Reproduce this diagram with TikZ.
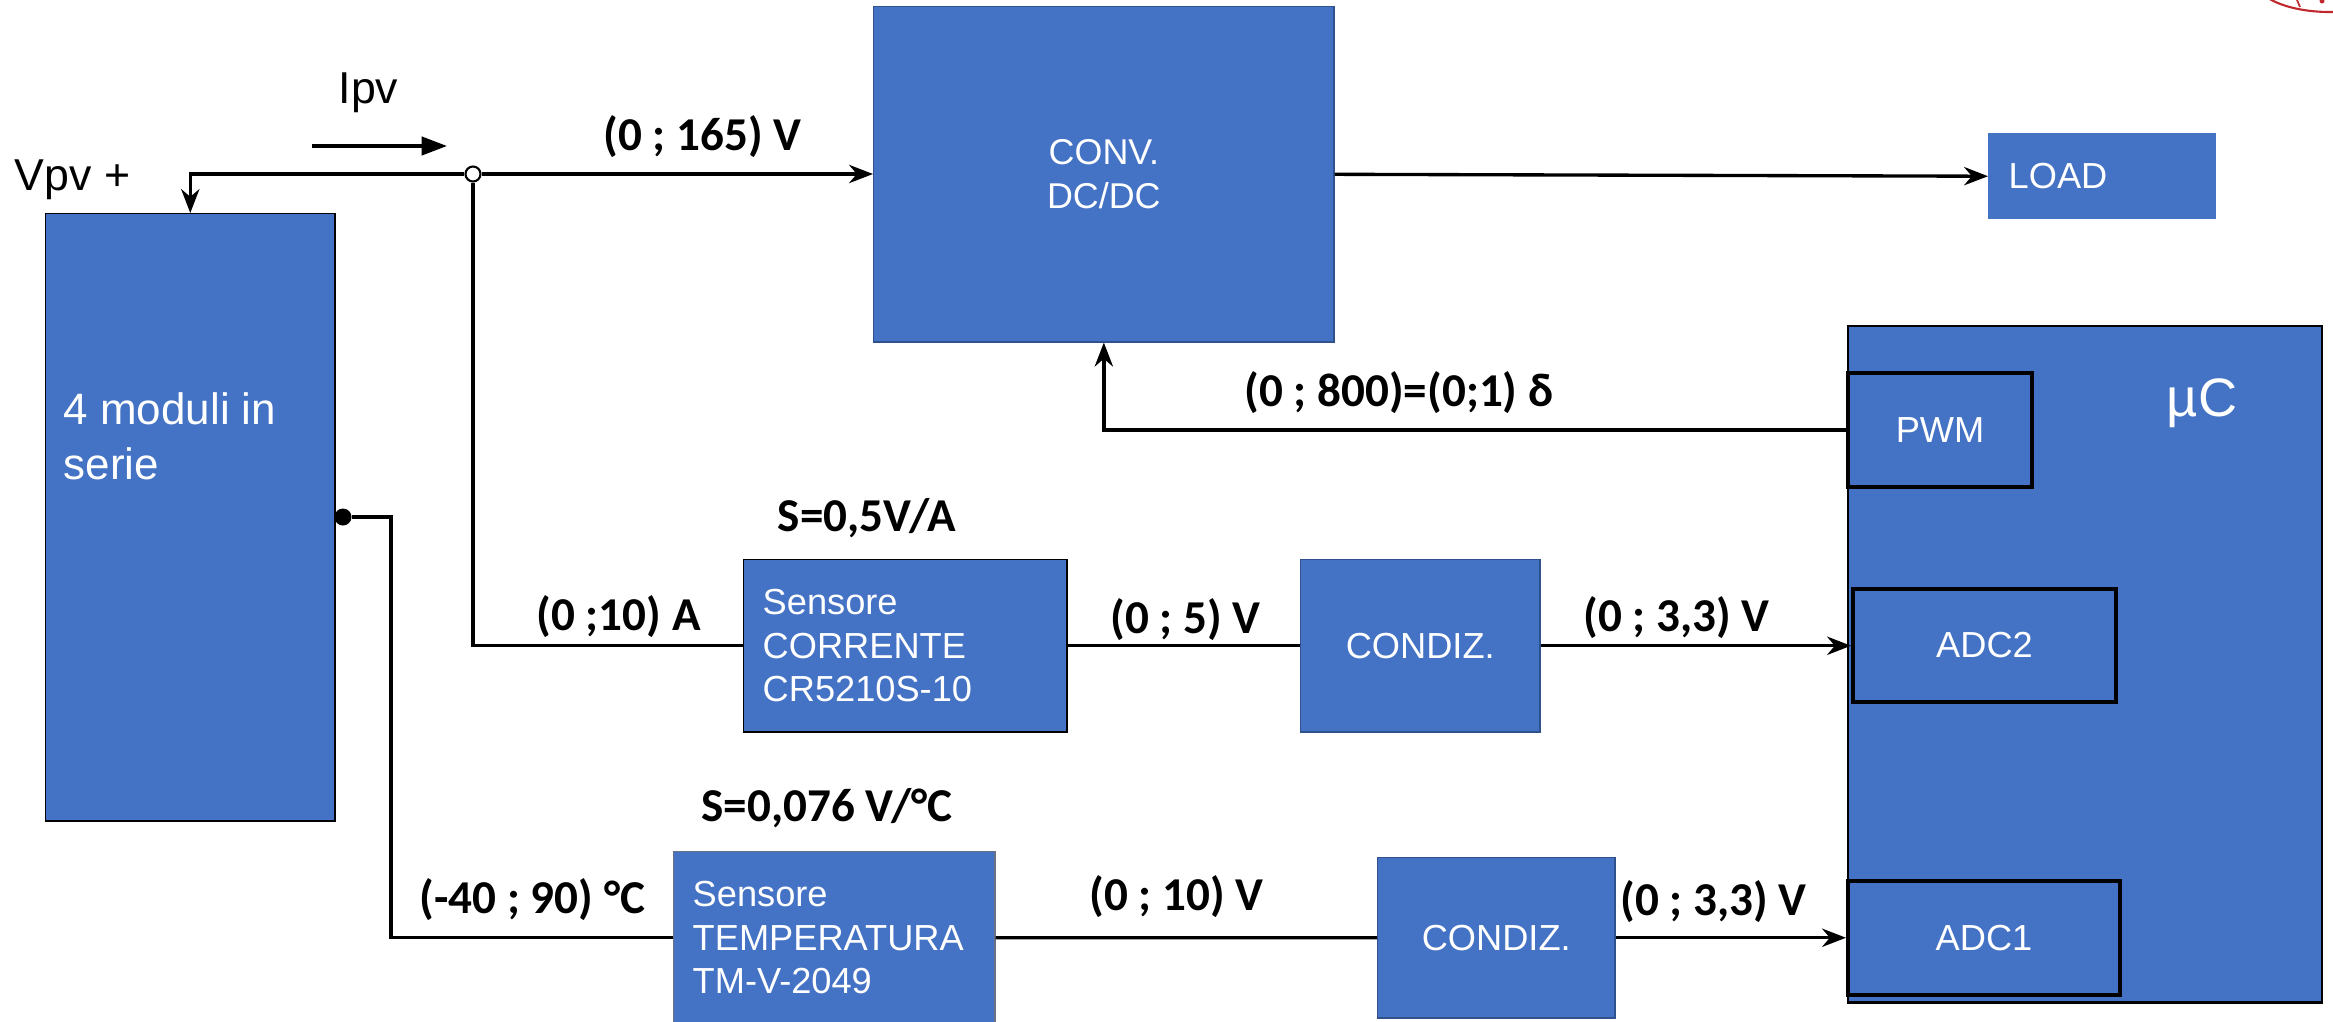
\documentclass[tikz,border=0pt]{standalone}
\usepackage{fontspec}
\setmainfont{Liberation Sans}
\newfontfamily\labfont{Carlito}
\usetikzlibrary{arrows.meta}
\definecolor{boxblue}{HTML}{4472C4}
\definecolor{edgeblue}{HTML}{2F528F}
\definecolor{logored}{HTML}{C0282D}
\begin{document}
\begin{tikzpicture}[x=0.01cm,y=-0.01cm,
  blk/.style={fill=boxblue, draw=#1, line width=0.4pt, inner sep=0pt, text=white,
    anchor=north west, font=\fontsize{10.3}{12.3}\selectfont},
  blk/.default=edgeblue,
  port/.style={fill=boxblue, draw=black, line width=1.1pt, inner sep=0pt, text=white,
    anchor=north west, font=\fontsize{10.3}{12.3}\selectfont},
  wtext/.style={text=white, inner sep=0pt},
  conn/.style={draw=black, line width=0.95pt},
  arr/.style={-{Stealth[length=6.8pt,width=5.2pt,inset=2.2pt]}},
  lab/.style={font=\labfont\bfseries\fontsize{13.4}{16}\selectfont, inner sep=0pt, anchor=west},
  big/.style={font=\fontsize{12.7}{15}\selectfont, inner sep=0pt}
]
\useasboundingbox (0,0) rectangle (2333,1021);

% logo fragment
\begin{scope}
  \clip (2233,0) rectangle (2333,40);
  \draw[logored, line width=0.6pt] (2330,-20) ellipse [x radius=0.75cm, y radius=0.32cm];
  \draw[logored, line width=0.5pt] (2297,0) -- (2300,7);
  \fill[logored] (2322,1) circle [radius=0.025cm];
\end{scope}

% blocks
\node[blk=black, minimum width=2.89cm, minimum height=6.07cm] (mod) at (45,213) {};
\node[wtext, anchor=west, align=left, font=\fontsize{12.5}{15.7}\selectfont] (modt) at (63,436) {4 moduli in\\serie};

\node[blk, minimum width=4.60cm, minimum height=3.35cm, align=center, font=\fontsize{10.2}{12.5}\selectfont] (conv) at (873,6) {CONV.\\DC/DC};

\node[blk=boxblue, minimum width=2.26cm, minimum height=0.85cm, text width=1.86cm, inner xsep=0.2cm, align=left] (load) at (1988,133) {LOAD};

\node[blk=black, minimum width=3.23cm, minimum height=1.72cm, text width=2.85cm, inner xsep=0.19cm, align=left] (cs) at (743,559) {Sensore\\CORRENTE\\CR5210S-10};
\node[blk, minimum width=2.39cm, minimum height=1.72cm] (cd1) at (1300,559) {CONDIZ.};

\node[blk=gray!70!edgeblue, minimum width=3.21cm, minimum height=1.72cm, text width=2.83cm, inner xsep=0.18cm, align=left] (ts) at (673,851) {Sensore\\TEMPERATURA\\TM-V-2049};
\node[blk, minimum width=2.37cm, minimum height=1.60cm] (cd2) at (1377,857) {CONDIZ.};

\node[blk=black, line width=0.6pt, minimum width=4.74cm, minimum height=6.76cm] (uc) at (1847,325) {};
\node[wtext, font=\fontsize{15.4}{18}\selectfont] (uct) at (2202,403) {µC};
\node[port, minimum width=1.84cm, minimum height=1.14cm] (pwm) at (1846,371) {PWM};
\node[port, minimum width=2.63cm, minimum height=1.13cm] (adc2) at (1851,587) {ADC2};
\node[port, minimum width=2.72cm, minimum height=1.14cm] (adc1) at (1846,879) {ADC1};

% junctions
\node[circle, draw=black, fill=white, line width=0.6pt, inner sep=0pt, minimum size=0.15cm] (jc) at (473,174) {};
\node[circle, fill=black, inner sep=0pt, minimum size=0.17cm] (dt) at (343,517) {};
\coordinate (tk) at (391,517);
\coordinate (ia) at (312,146);
\coordinate (ib) at (447,146);

% connectors
\draw[conn, arr] (jc) -| (mod.north);
\draw[conn, arr] (jc) -- (jc -| conv.west);
\draw[conn] (jc) |- (cs.west);
\draw[conn, arr] (conv.east) -- (load.west);
\draw[conn, arr] (pwm.west) -| (conv.south);
\draw[conn] (cs) -- (cd1);
\draw[conn, arr] (cd1.east) -- (cd1.east -| adc2.west);
\draw[conn] (dt) -- (tk) |- (ts.west);
\draw[conn] (ts) -- (cd2);
\draw[conn, arr] (cd2.east) -- (cd2.east -| adc1.west);
\draw[line width=0.95pt, -{Triangle[length=7.2pt,width=5.2pt]}] (ia) -- (ib);

% labels
\node[big, anchor=base west] (vpv) at (14,190) {Vpv +};
\node[big, anchor=base west] (ipv) at (338,103) {Ipv};
\node[lab] (l165) at (603,137) {(0 ; 165) V};
\node[lab] (l10a) at (536,617) {(0 ;10) A};
\node[lab] (ls1) at (777,518) {S=0,5V/A};
\node[lab] (l5v) at (1110,620) {(0 ; 5) V};
\node[lab] (l33a) at (1583,618) {(0 ; 3,3) V};
\node[lab] (l800) at (1244,393) {(0 ; 800)=(0;1) δ};
\node[lab] (ls2) at (701,808) {S=0,076 V/°C};
\node[lab] (l40) at (419,900) {(-40 ; 90) °C};
\node[lab] (l10v) at (1089,897) {(0 ; 10) V};
\node[lab] (l33b) at (1620,902) {(0 ; 3,3) V};
\end{tikzpicture}
\end{document}
